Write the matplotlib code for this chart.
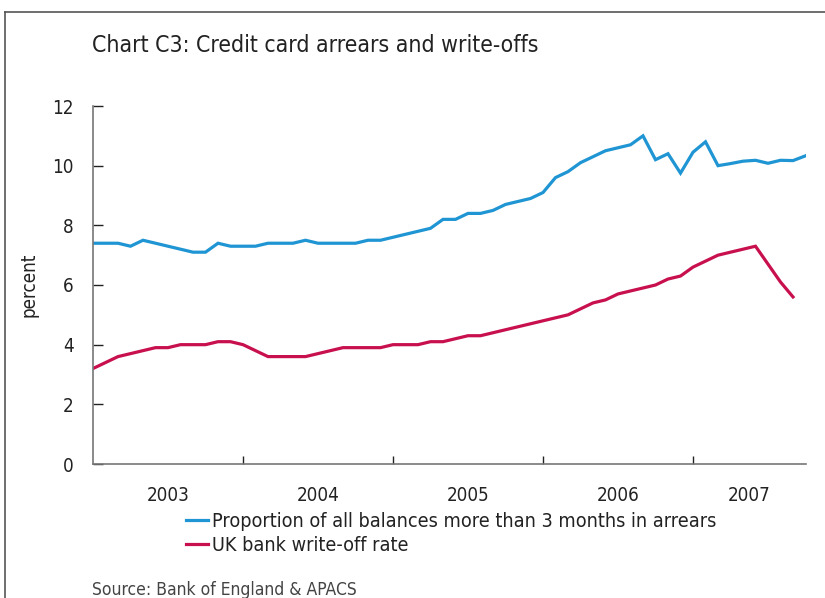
import matplotlib
matplotlib.use("Agg")
import matplotlib.pyplot as plt
from matplotlib.lines import Line2D
import numpy as np

# ---- data (monthly, starting January 2003) ----
arrears = [7.4, 7.4, 7.4, 7.3, 7.5, 7.4, 7.3, 7.2, 7.1, 7.1, 7.4, 7.3,
           7.3, 7.3, 7.4, 7.4, 7.4, 7.5, 7.4, 7.4, 7.4, 7.4, 7.5, 7.5,
           7.6, 7.7, 7.8, 7.9, 8.2, 8.2, 8.4, 8.4, 8.5, 8.7, 8.8, 8.9,
           9.1, 9.6, 9.8, 10.1, 10.3, 10.5, 10.6, 10.7, 11.0, 10.2, 10.4, 9.75,
           10.45, 10.8, 10.0, 10.07, 10.15, 10.18, 10.08, 10.18, 10.17, 10.33]
writeoff = [3.2, 3.4, 3.6, 3.7, 3.8, 3.9, 3.9, 4.0, 4.0, 4.0, 4.1, 4.1,
            4.0, 3.8, 3.6, 3.6, 3.6, 3.6, 3.7, 3.8, 3.9, 3.9, 3.9, 3.9,
            4.0, 4.0, 4.0, 4.1, 4.1, 4.2, 4.3, 4.3, 4.4, 4.5, 4.6, 4.7,
            4.8, 4.9, 5.0, 5.2, 5.4, 5.5, 5.7, 5.8, 5.9, 6.0, 6.2, 6.3,
            6.6, 6.8, 7.0, 7.1, 7.2, 7.3, 6.7, 6.1, 5.6]
year_labels = ["2003", "2004", "2005", "2006", "2007"]
year_label_pos = [6, 18, 30, 42, 52.5]
year_ticks = [12, 24, 36, 48]
yticks = [0, 2, 4, 6, 8, 10, 12]
series_names = ["Proportion of all balances more than 3 months in arrears",
                "UK bank write-off rate"]

# ---- fonts ----
plt.rcParams['font.family'] = ['DejaVu Sans']
plt.rcParams['font.stretch'] = 'condensed'

BLUE = "#1F95D3"
RED = "#C8104E"
TXT = "#222222"

fig = plt.figure(figsize=(8.25, 5.98), dpi=100)
ax = fig.add_axes([93/825, 1-464/598, (805.5-93)/825, (464-106)/598])

x_a = np.arange(len(arrears))
x_w = np.arange(len(writeoff))
ax.plot(x_a, arrears, color=BLUE, lw=2.3, solid_joinstyle='miter')
ax.plot(x_w, writeoff, color=RED, lw=2.3, solid_joinstyle='miter')

ax.set_xlim(0, 57)
ax.set_ylim(0, 12)

for s in ['top', 'right']:
    ax.spines[s].set_visible(False)
for s in ['left', 'bottom']:
    ax.spines[s].set_color('#777777')
    ax.spines[s].set_linewidth(1.2)

ax.set_yticks(yticks)
ax.set_yticklabels([str(v) for v in yticks])
ax.tick_params(axis='y', direction='in', length=7, width=1, color='#222222',
               labelsize=13.5, pad=14, labelcolor=TXT)

ax.set_xticks(year_ticks)
ax.set_xticklabels([])
ax.tick_params(axis='x', which='major', direction='in', length=6, width=1, color='#222222')
ax.set_xticks(year_label_pos, minor=True)
ax.set_xticklabels(year_labels, minor=True)
ax.tick_params(axis='x', which='minor', length=0, labelsize=13.5, pad=16, labelcolor=TXT)

ax.set_ylabel("percent", fontsize=13.5, color=TXT)
ax.yaxis.set_label_coords(-55/712.5, 0.5)

fig.text(92/825, 1-46/598, "Chart C3: Credit card arrears and write-offs",
         fontsize=16.5, color=TXT, ha='left', va='center')

handles = [Line2D([], [], color=BLUE, lw=2.3), Line2D([], [], color=RED, lw=2.3)]
fig.legend(handles, series_names, loc='upper left',
           bbox_to_anchor=(186/825, 1-512/598), frameon=False, fontsize=14.2,
           handlelength=1.1, handletextpad=0.2, labelspacing=0.25,
           borderaxespad=0, borderpad=0, labelcolor=TXT)

fig.text(92/825, 1-590/598, "Source: Bank of England & APACS",
         fontsize=12.5, color='#444444', ha='left', va='center')

# frame lines (left and top)
fig.add_artist(Line2D([5/825, 5/825], [0, 1-12/598], transform=fig.transFigure,
                      color='#555555', lw=1.2))
fig.add_artist(Line2D([5/825, 1], [1-12/598, 1-12/598], transform=fig.transFigure,
                      color='#555555', lw=1.2))

fig.savefig("out.png", dpi=100)
